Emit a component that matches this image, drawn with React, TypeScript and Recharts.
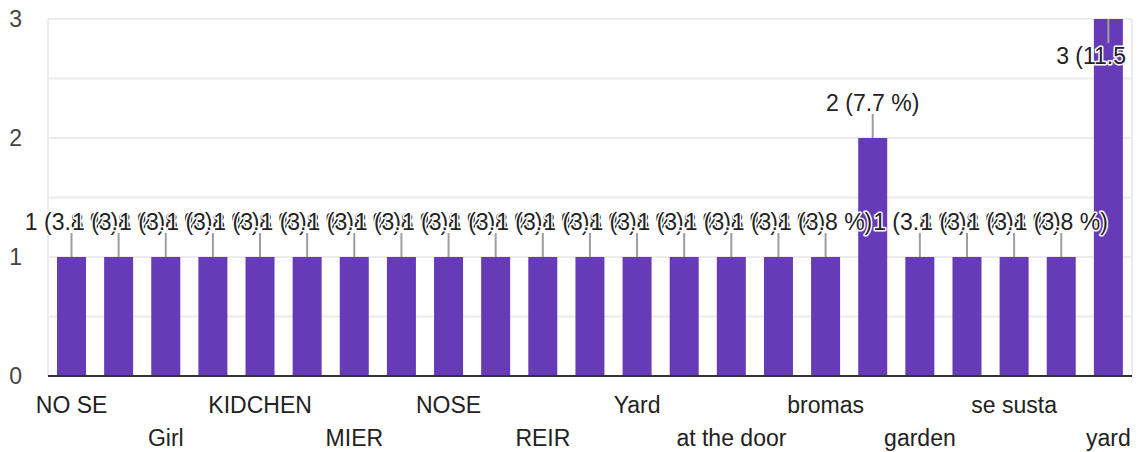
import * as React from "react";
import * as Recharts from "recharts";

const { BarChart, Bar, XAxis, YAxis, CartesianGrid, LabelList } = Recharts;

const answers = [
  "NO SE", "Casa", "Girl", "Jugar", "KIDCHEN", "Kitchen", "MIER", "Miedo",
  "NOSE", "No sé", "REIR", "Risa", "Yard", "afuera", "at the door", "bed",
  "bromas", "door", "garden", "house", "se susta", "sala", "yard",
];
const counts = [1, 1, 1, 1, 1, 1, 1, 1, 1, 1, 1, 1, 1, 1, 1, 1, 1, 2, 1, 1, 1, 1, 3];
const yTicks = [0, 0.5, 1, 1.5, 2, 2.5, 3];

const total = counts.reduce((a, b) => a + b, 0);
const data = answers.map((name, i) => ({ name, count: counts[i] }));

const FONT = "'Liberation Sans', Arial, sans-serif";
const PURPLE = "#673ab7";

// clip annotations at the right edge of the plot, like the original
function AnnotationClip() {
  const usePlotArea = (Recharts as any).usePlotArea;
  const plot = usePlotArea ? usePlotArea() : null;
  if (!plot) return null;
  return (
    <defs>
      <clipPath id="annotation-clip">
        <rect x={0} y={0} width={plot.x + plot.width} height={plot.y + plot.height} />
      </clipPath>
    </defs>
  );
}

function Annotation(props: any) {
  const { x, y, width, value } = props;
  const cx = x + width / 2;
  const above = y - 45 >= 0;
  const lineEnd = above ? y - 24 : y + 24;
  const baseline = above ? y - 27 : y + 45;
  const pct = ((value / total) * 100).toFixed(1);
  return (
    <g clipPath="url(#annotation-clip)">
      <line x1={cx} x2={cx} y1={y} y2={lineEnd} stroke="#9e9e9e" strokeWidth={2} />
      <text
        x={cx}
        y={baseline}
        textAnchor="middle"
        fontFamily={FONT}
        fontSize={23}
        fill="#222"
        stroke="#fff"
        strokeWidth={3}
        strokeLinejoin="round"
        paintOrder="stroke"
      >
        {`${value} (${pct} %)`}
      </text>
    </g>
  );
}

function CategoryTick(props: any) {
  const { x, y, payload, index } = props;
  const i = payload?.index ?? index;
  if (i % 2 === 1) return null;
  const row = (i / 2) % 2;
  return (
    <text x={x} y={y + (row === 0 ? 37 : 70)} textAnchor="middle" fontFamily={FONT} fontSize={23} fill="#222">
      {payload.value}
    </text>
  );
}

function CountTick(props: any) {
  const { x, y, payload } = props;
  if (!Number.isInteger(payload.value)) return null;
  return (
    <text x={x - 26} y={y + 8} textAnchor="end" fontFamily={FONT} fontSize={23} fill="#444">
      {payload.value}
    </text>
  );
}

export default function App() {
  return (
    <div style={{ position: "absolute", left: 0, top: 0, background: "#fff" }}>
      <BarChart
        width={1144}
        height={452}
        data={data}
        margin={{ top: 19, right: 12, bottom: 0, left: 0 }}
      >
        <AnnotationClip />
        <CartesianGrid
          stroke="#ececec"
          strokeWidth={2}
          verticalCoordinatesGenerator={({ offset }: any) => [offset.left, offset.left + offset.width]}
        />
        <XAxis
          dataKey="name"
          interval={0}
          height={76}
          tickSize={0}
          tickMargin={0}
          tickLine={false}
          axisLine={{ stroke: "#333", strokeWidth: 2 }}
          tick={<CategoryTick />}
        />
        <YAxis
          domain={[0, 3]}
          ticks={yTicks}
          width={48}
          tickSize={0}
          tickMargin={0}
          tickLine={false}
          axisLine={false}
          tick={<CountTick />}
        />
        <Bar dataKey="count" fill={PURPLE} barSize={29} isAnimationActive={false}>
          <LabelList dataKey="count" content={<Annotation />} />
        </Bar>
      </BarChart>
    </div>
  );
}
